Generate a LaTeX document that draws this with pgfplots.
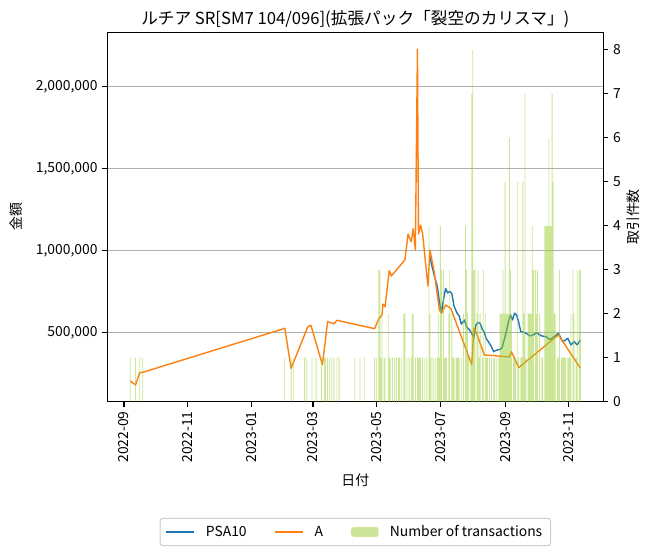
\documentclass[border=0pt]{standalone}
\usepackage{fontspec}
\setmainfont{Noto Sans CJK JP}
\usepackage{pgfplots}
\usepackage{pgfplotstable}
\pgfplotsset{compat=1.18}
\definecolor{psa}{HTML}{1F77B4}
\definecolor{gradeA}{HTML}{FF7F0E}
\definecolor{yg}{HTML}{9ACD32}
\definecolor{gridc}{HTML}{B0B0B0}
\definecolor{legframe}{HTML}{CCCCCC}
\pgfplotsset{
  lineleg/.style={legend image code/.code={\draw[##1] (0pt,0pt) -- (20pt,0pt);}},
  barleg/.style={legend image code/.code={\fill[yg, fill opacity=0.5] (0pt,-3.5pt) rectangle (20pt,3.5pt);}},
}

\pgfplotstableread{
day val
293 960000
295 900000
297 850000
300 780000
302 690000
304 620000
306 700000
308 768000
310 740000
312 750000
314 735000
316 660000
319 616000
321 600000
323 550000
326 575000
328 534000
331 513000
333 493000
335 465000
337 545000
339 560000
341 555000
343 520000
345 500000
347 460000
349 443000
352 410000
354 382000
357 392000
360 395000
362 405000
364 453000
366 500000
368 560000
370 605000
372 575000
374 616000
376 605000
378 560000
380 504000
383 500000
386 490000
389 478000
392 484000
395 498000
398 485000
400 478000
404 473000
408 455000
411 470000
413 478000
416 494000
418 470000
420 443000
422 450000
425 463000
428 423000
431 443000
434 423000
437 453000
}\psatable

\pgfplotstableread{
day val
6 203000
11 179000
15 254000
18 256000
154 524000
160 280000
176 534000
179 543000
190 302000
195 565000
201 552000
204 573000
240 522000
244 583000
247 605000
248 672000
250 656000
254 876000
256 843000
269 941000
272 1099000
275 1052000
277 1132000
279 1002000
281 2226000
282 1099000
284 1154000
286 1099000
291 782000
293 1002000
297 870000
302 636000
304 616000
308 666000
313 646000
333 302000
335 524000
337 505000
345 362000
369 350000
371 382000
378 285000
416 484000
437 282000
}\atable

\pgfplotstableread{
day n
6 1
11 1
15 1
18 1
154 1
160 1
162 1
173 1
175 1
180 1
184 1
189 1
192 1
193 1
195 1
197 1
199 1
201 1
204 1
206 1
221 1
226 1
230 1
240 1
242 1
244 3
245 3
246 1
247 2
249 1
250 1
253 2
254 1
255 1
257 1
259 1
261 1
263 1
264 1
266 1
268 2
269 2
271 1
273 1
275 1
276 2
277 2
279 1
281 1
282 1
283 1
284 1
286 1
288 1
290 1
292 4
293 2
294 1
296 1
298 1
300 1
301 2
302 1
303 4
304 3
306 3
307 1
308 1
309 1
311 2
312 3
314 2
315 1
316 1
318 1
319 1
320 1
321 1
323 1
325 2
327 4
328 3
329 2
330 1
332 1
333 7
334 8
335 3
336 3
338 2
339 3
340 1
341 2
343 1
344 3
346 2
347 1
348 1
350 1
352 1
354 1
355 1
357 1
359 1
360 2
361 2
362 2
363 3
364 2
365 5
366 2
367 2
368 2
369 6
370 3
371 2
373 1
374 1
375 1
377 5
378 1
380 1
381 1
382 5
383 2
384 7
385 1
387 2
388 2
389 2
390 2
391 4
392 3
394 3
395 2
396 3
398 2
400 1
401 1
403 4
404 4
405 4
406 4
407 6
408 4
409 4
410 7
411 5
412 2
413 2
415 1
416 1
417 3
419 1
420 1
421 1
422 1
423 1
425 1
426 1
427 1
428 2
430 3
431 2
433 1
434 3
436 3
437 3
}\bartable

\begin{document}
\begin{tikzpicture}[x=1pt,y=1pt]
\path[use as bounding box] (0,0) rectangle (468,398.88);
\begin{axis}[
  at={(77.26pt,109.66pt)}, anchor=south west,
  scale only axis, width=357.12pt, height=265.97pt,
  xmin=-16, xmax=459, ymin=76827, ymax=2329280,
  axis line style={line width=0.8pt},
  tick pos=left, tick align=outside,
  major tick length=3.5pt,
  tick style={black, line width=0.8pt},
  xtick={0,61,122,181,242,303,365,426},
  xticklabels={2022-09,2022-11,2023-01,2023-03,2023-05,2023-07,2023-09,2023-11},
  xticklabel style={rotate=90, anchor=east},
  ytick={500000,1000000,1500000,2000000},
  scaled y ticks=false,
  /pgf/number format/fixed,
  /pgf/number format/1000 sep={,},
  /pgf/number format/assume math mode=true,
  tick label style={font=\fontsize{10}{12}\selectfont},
  ymajorgrids, major grid style={gridc, line width=0.8pt},
  xlabel={日付},
  xlabel style={at={(axis description cs:0.5,-0.212)}, anchor=center, font=\fontsize{10}{12}\selectfont},
  ylabel={金額},
  ylabel style={at={(axis description cs:-0.184,0.5)}, anchor=center, font=\fontsize{10}{12}\selectfont},
  title={ルチア SR[SM7 104/096](拡張パック「裂空のカリスマ」)},
  title style={at={(axis description cs:0.5,1.012)}, anchor=center, font=\fontsize{12}{14}\selectfont},
]
\addplot[psa, line width=1pt, line join=round] table[x=day, y=val] {\psatable};
\addplot[gradeA, line width=1pt, line join=round] table[x=day, y=val] {\atable};
\end{axis}
\begin{axis}[
  at={(77.26pt,109.66pt)}, anchor=south west,
  scale only axis, width=357.12pt, height=265.97pt,
  xmin=-16, xmax=459, ymin=0, ymax=8.4,
  axis x line=none, axis y line*=right,
  axis line style={line width=0.8pt, -},
  tick align=outside,
  major tick length=3.5pt,
  tick style={black, line width=0.8pt},
  ytick={0,1,2,3,4,5,6,7,8},
  /pgf/number format/assume math mode=true,
  tick label style={font=\fontsize{10}{12}\selectfont},
  ylabel={取引件数},
  ylabel style={at={(axis description cs:1.060,0.5)}, anchor=center, font=\fontsize{10}{12}\selectfont},
  legend columns=3,
  legend style={at={(axis description cs:0.5,-0.3527)}, anchor=center,
    draw=legframe, rounded corners=2pt, line width=0.8pt,
    font=\fontsize{10}{12}\selectfont,
    /tikz/every odd column/.append style={column sep=6pt},
    /tikz/every even column/.append style={column sep=18pt},
    inner xsep=4pt, inner ysep=3pt},
  legend cell align=left,
]
\addlegendimage{psa, line width=1pt, lineleg}
\addlegendentry{PSA10}
\addlegendimage{gradeA, line width=1pt, lineleg}
\addlegendentry{A}
\addplot[ybar, bar width=0.8, draw=none, fill=yg, fill opacity=0.5, barleg]
  table[x=day, y=n] {\bartable};
\addlegendentry{Number of transactions}
\end{axis}
\end{tikzpicture}
\end{document}
